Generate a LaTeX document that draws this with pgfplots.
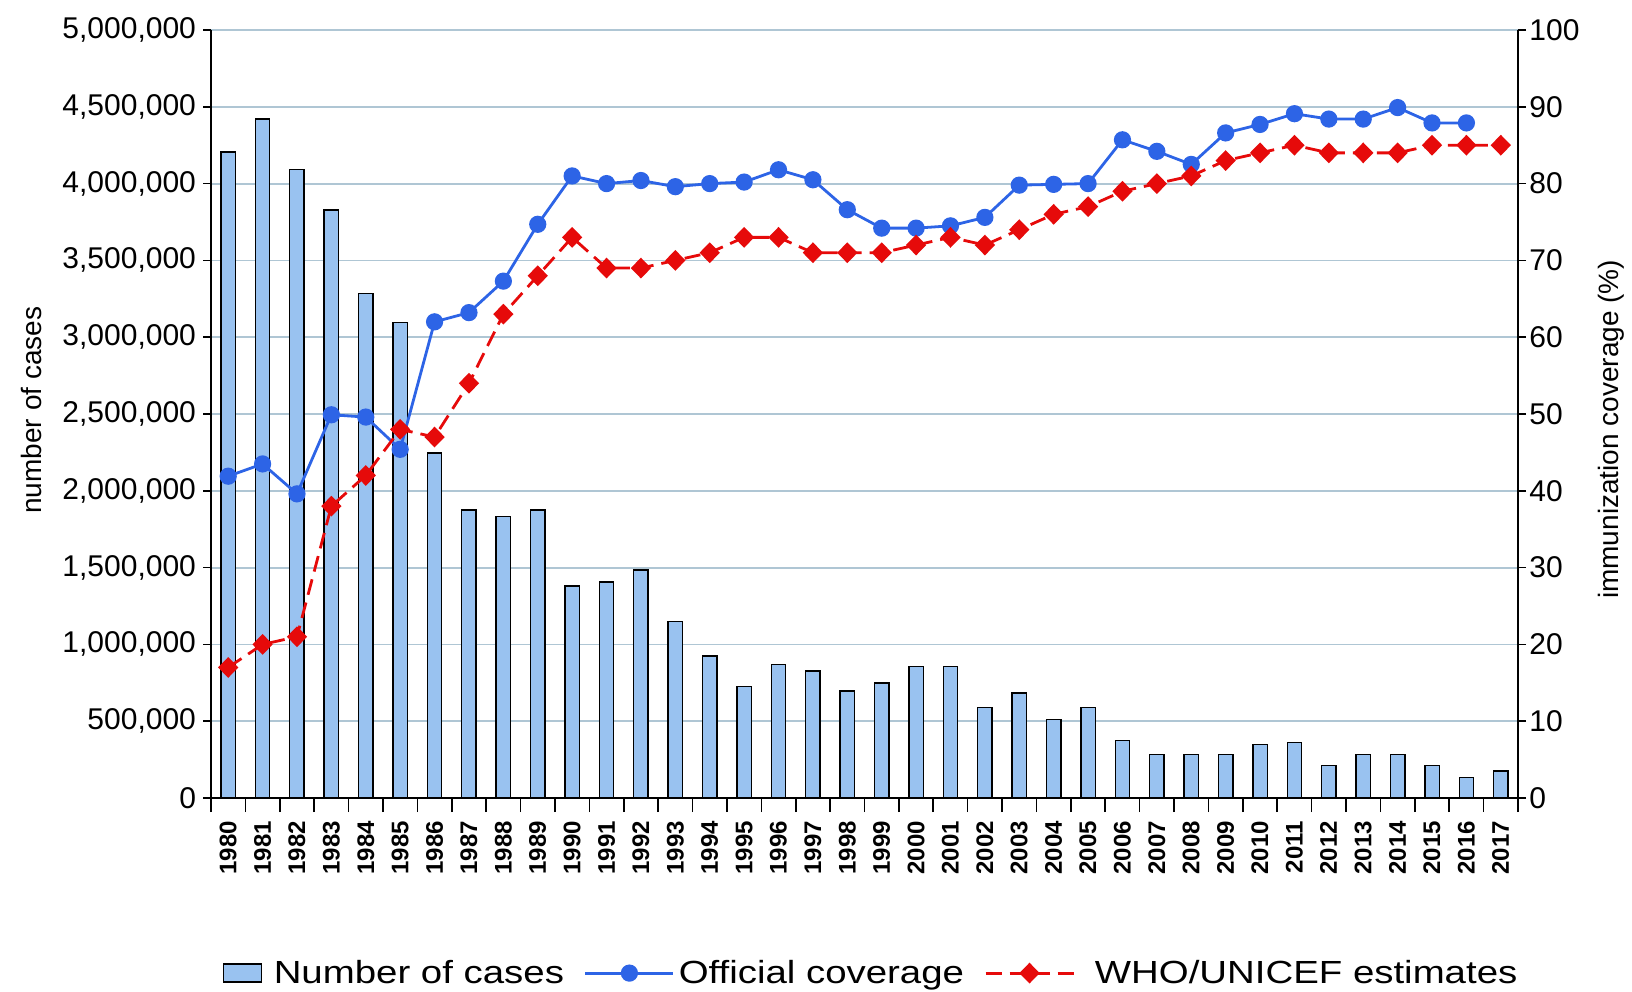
\documentclass[border=0pt]{standalone}
\usepackage{fontspec}
\setmainfont{Liberation Sans}
\newfontfamily\legfont[FakeStretch=1.2]{Liberation Sans}
\usepackage{pgfplots}
\pgfplotsset{compat=1.18}
\definecolor{barfill}{RGB}{153,194,240}
\definecolor{gridc}{RGB}{175,198,212}
\definecolor{offblue}{RGB}{45,100,230}
\definecolor{whored}{RGB}{230,10,10}

\begin{document}
\begin{tikzpicture}
\useasboundingbox (0,0) rectangle (816pt,495.5pt);
\begin{axis}[
  at={(105.5pt,96.5pt)}, anchor=south west,
  scale only axis, width=653.5pt, height=384pt,
  /pgf/number format/assume math mode=true,
  xmin=1979.5, xmax=2017.5, ymin=0, ymax=5000000,
  axis y line*=left, axis x line*=bottom,
  axis line style={black, line width=0.8pt},
  tick align=outside,
  xtick={1980,...,2017},
  minor xtick={1979.5,1980.5,...,2017.5},
  major x tick style={draw=none},
  minor x tick style={black, line width=0.8pt},
  minor tick length=7pt,
  major tick length=4pt,
  ytick={0,500000,...,5000000},
  ytick style={black, line width=0.8pt},
  scaled y ticks=false,
  yticklabel style={/pgf/number format/fixed, /pgf/number format/precision=0, /pgf/number format/1000 sep={,}, font=\fontsize{15}{15}\selectfont},
  xticklabel style={/pgf/number format/fixed, /pgf/number format/1000 sep={}, rotate=90, anchor=east, font=\bfseries\fontsize{12}{12}\selectfont, xshift=-4pt},
  ymajorgrids, grid style={gridc, line width=0.9pt},
  ylabel={number of cases},
  ylabel style={at={(axis description cs:-0.1377,0.505)}, anchor=center, font=\fontsize{14}{14}\selectfont},
]
\addplot[ybar, bar width=7.2pt, fill=barfill, draw=black, line width=0.7pt] coordinates {
(1980,4207000) (1981,4420000) (1982,4093000) (1983,3829000) (1984,3285000)
(1985,3095000) (1986,2245000) (1987,1876000) (1988,1834000) (1989,1876000)
(1990,1379000) (1991,1405000) (1992,1485000) (1993,1151000) (1994,924000)
(1995,726000) (1996,869000) (1997,828000) (1998,696000) (1999,750000)
(2000,856000) (2001,856000) (2002,590000) (2003,683000) (2004,510000)
(2005,590000) (2006,373000) (2007,282000) (2008,282000) (2009,282000)
(2010,349000) (2011,362000) (2012,212000) (2013,282000) (2014,282000)
(2015,212000) (2016,134000) (2017,176000)
};
\end{axis}
\begin{axis}[
  at={(105.5pt,96.5pt)}, anchor=south west,
  scale only axis, width=653.5pt, height=384pt,
  /pgf/number format/assume math mode=true,
  xmin=1979.5, xmax=2017.5, ymin=0, ymax=100,
  axis y line*=right, axis x line=none,
  axis line style={black, line width=0.8pt},
  tick align=outside,
  major tick length=4pt,
  ytick={0,10,...,100},
  ytick style={black, line width=0.8pt},
  yticklabel style={/pgf/number format/fixed, font=\fontsize{15}{15}\selectfont, inner sep=1.5pt},
  ylabel={immunization coverage (\%)},
  ylabel style={at={(axis description cs:1.0712,0.48)}, anchor=center, font=\fontsize{14}{14}\selectfont},
  legend columns=-1,
  legend image code/.code={\draw[mark repeat=2,mark phase=2,#1] plot coordinates {(0pt,0pt) (22pt,0pt) (44pt,0pt)};},
  legend style={draw=none, fill=none, at={(0.5057,-0.228)}, anchor=center,
    font=\legfont\fontsize{16}{19}\selectfont,
    /tikz/every even column/.append style={column sep=8pt}},
]
\addlegendimage{legend image code/.code={\draw[fill=barfill,draw=black,line width=0.8pt] (0pt,-4.5pt) rectangle (19pt,4.5pt); \path (23pt,0pt);}}
\addplot[offblue, line width=1.4pt, mark=*, mark size=3.6pt, mark options={fill=offblue, draw=offblue}] coordinates {
(1980,41.9) (1981,43.5) (1982,39.6) (1983,49.9) (1984,49.6) (1985,45.4)
(1986,62) (1987,63.2) (1988,67.3) (1989,74.7) (1990,81) (1991,80)
(1992,80.4) (1993,79.6) (1994,80) (1995,80.2) (1996,81.8) (1997,80.5)
(1998,76.6) (1999,74.2) (2000,74.2) (2001,74.5) (2002,75.6) (2003,79.8)
(2004,79.9) (2005,80) (2006,85.7) (2007,84.2) (2008,82.5) (2009,86.6)
(2010,87.7) (2011,89.1) (2012,88.4) (2013,88.4) (2014,89.9) (2015,87.9)
(2016,87.9)
};
\addplot[whored, line width=1.4pt, dash pattern=on 8pt off 4pt, mark=diamond*, mark size=4.2pt, mark options={solid, fill=whored, draw=whored, xscale=1.3}] coordinates {
(1980,17) (1981,20) (1982,21) (1983,38) (1984,42) (1985,48) (1986,47)
(1987,54) (1988,63) (1989,68) (1990,73) (1991,69) (1992,69) (1993,70)
(1994,71) (1995,73) (1996,73) (1997,71) (1998,71) (1999,71) (2000,72)
(2001,73) (2002,72) (2003,74) (2004,76) (2005,77) (2006,79) (2007,80)
(2008,81) (2009,83) (2010,84) (2011,85) (2012,84) (2013,84) (2014,84)
(2015,85) (2016,85) (2017,85)
};
\legend{Number of cases, Official coverage, \hspace{8pt}WHO/UNICEF estimates}
\end{axis}
\end{tikzpicture}
\end{document}
